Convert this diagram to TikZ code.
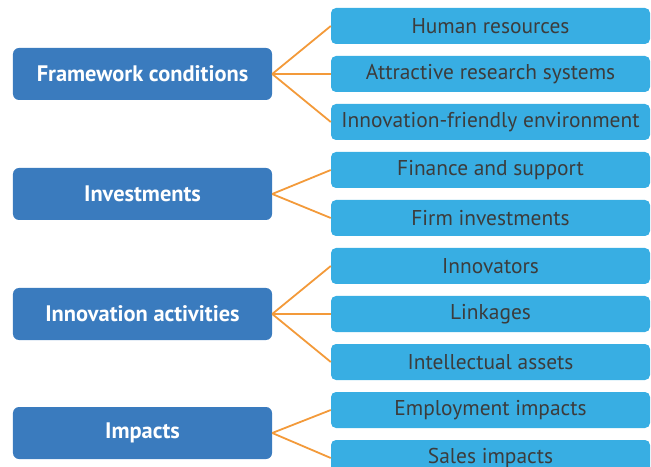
\documentclass[tikz,border=0pt]{standalone}
\usepackage{fontspec}
\setmainfont{PT Sans}
\definecolor{darkbox}{HTML}{3A7BBE}
\definecolor{lightbox}{HTML}{38AEE3}
\definecolor{linkcol}{HTML}{F39A3A}
\definecolor{subtext}{HTML}{3C3C3C}
\tikzset{
  mainbox/.style={fill=darkbox, rounded corners=6bp, minimum width=259bp, minimum height=52bp, text=white, font=\fontsize{22.5}{26}\selectfont\bfseries, inner sep=0pt},
  subbox/.style={fill=lightbox, rounded corners=5bp, minimum width=319bp, minimum height=36bp, text=subtext, font=\fontsize{21.5}{25}\selectfont, inner sep=0pt},
  link/.style={draw=linkcol, line width=1.8bp}
}
\begin{document}
\begin{tikzpicture}[x=1bp,y=-1bp]
\useasboundingbox (0,0) rectangle (651,467);
\node[mainbox] (m1) at (142.5,74) {Framework conditions};
\node[mainbox] (m2) at (142.5,194) {Investments};
\node[mainbox] (m3) at (142.5,314) {Innovation activities};
\node[mainbox] (m4) at (142.5,433) {Impacts};
\node[subbox] (s1) at (490.5,26) {Human resources};
\node[subbox] (s2) at (490.5,74) {Attractive research systems};
\node[subbox] (s3) at (490.5,122) {Innovation-friendly environment};
\node[subbox] (s4) at (490.5,170) {Finance and support};
\node[subbox] (s5) at (490.5,218) {Firm investments};
\node[subbox] (s6) at (490.5,266) {Innovators};
\node[subbox] (s7) at (490.5,314) {Linkages};
\node[subbox] (s8) at (490.5,362) {Intellectual assets};
\node[subbox] (s9) at (490.5,410) {Employment impacts};
\node[subbox] (s10) at (490.5,458) {Sales impacts};
\foreach \m/\s in {m1/s1,m1/s2,m1/s3,m2/s4,m2/s5,m3/s6,m3/s7,m3/s8,m4/s9,m4/s10}
  \draw[link] (\m.east) -- (\s.west);
\end{tikzpicture}
\end{document}
